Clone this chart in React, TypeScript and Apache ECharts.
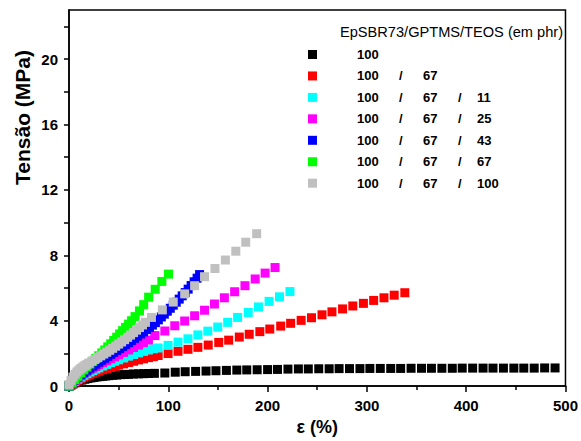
import React, { useEffect, useRef } from "react";
import * as echarts from "echarts";

const FONT = "'Liberation Sans', Arial, Helvetica, sans-serif";

const legendNames = ["100", "100/67", "100/67/11", "100/67/25", "100/67/43", "100/67/67", "100/67/100"];
const colors = ["#000000", "#ff0000", "#00ffff", "#ff00ff", "#0000ff", "#00ff00", "#c0c0c0"];
const legendTitle = "EpSBR73/GPTMS/TEOS (em phr)";
const xLabel = "ε (%)";
const yLabel = "Tensão (MPa)";
const xTicks = [0, 100, 200, 300, 400, 500];
const yTickLabels = [0, 4, 8, 12, 16, 20];
const yTickMarks = [0, 2, 4, 6, 8, 10, 12, 14, 16, 18, 20, 22];

const s100: [number, number][] = [
  [0, 0], [2, 0.06], [4, 0.13], [6, 0.2], [8, 0.26], [10, 0.31], [13, 0.37], [16, 0.42], [19, 0.46], [22, 0.5],
  [25, 0.53], [28, 0.56], [31, 0.58], [34, 0.6], [37, 0.62], [40, 0.64], [44, 0.66], [48, 0.68], [52, 0.7], [56, 0.71],
  [60, 0.72], [65, 0.74], [70, 0.75], [75, 0.76], [80, 0.77], [86, 0.78], [96.5, 0.8], [107, 0.85], [117, 0.88],
  [127.5, 0.9], [138, 0.92], [148, 0.94], [158.5, 0.96], [169, 0.98], [179, 0.99], [189.5, 1.0], [200, 1.01],
  [210, 1.02], [220.5, 1.04], [231, 1.05], [241, 1.05], [251.5, 1.06], [262, 1.06], [272, 1.07], [282.5, 1.07],
  [293, 1.07], [303, 1.08], [313.5, 1.08], [324, 1.08], [334, 1.08], [344.5, 1.09], [355, 1.09], [365, 1.09],
  [375.5, 1.09], [386, 1.09], [396, 1.1], [406.5, 1.1], [417, 1.1], [427, 1.1], [437.5, 1.1], [448, 1.1],
  [458, 1.1], [468.5, 1.1], [479, 1.11], [489.5, 1.11],
];
const s100_67: [number, number][] = [
  [0, 0], [3, 0.12], [6, 0.24], [9, 0.35], [12, 0.45], [15, 0.54], [18, 0.62], [21, 0.7], [24, 0.78], [27, 0.85],
  [30, 0.92], [34, 1.0], [38, 1.07], [42, 1.14], [46, 1.21], [50, 1.28], [55, 1.36], [60, 1.44], [65, 1.52],
  [70, 1.6], [75, 1.67], [80, 1.74], [85, 1.8], [89.8, 1.87], [99.8, 1.99], [109.8, 2.13], [119.8, 2.25],
  [129.8, 2.37], [140.2, 2.51], [150.8, 2.67], [160.8, 2.81], [171.5, 3.0], [181.5, 3.17], [192.2, 3.33],
  [202.2, 3.49], [213.2, 3.67], [223.2, 3.84], [233.8, 4.02], [244.2, 4.18], [254.8, 4.36], [264.8, 4.54],
  [275.5, 4.72], [285.8, 4.9], [296.5, 5.06], [306.8, 5.24], [317.2, 5.4], [327.5, 5.56], [338.2, 5.71],
];
const s100_67_11: [number, number][] = [
  [0, 0], [3, 0.15], [6, 0.3], [9, 0.43], [12, 0.55], [15, 0.66], [18, 0.76], [21, 0.86], [24, 0.95], [27, 1.04],
  [30, 1.12], [34, 1.23], [38, 1.33], [42, 1.43], [46, 1.52], [50, 1.61], [55, 1.72], [60, 1.83], [65, 1.93],
  [70, 2.03], [75, 2.12], [80, 2.21], [85, 2.28], [89.8, 2.33], [99.8, 2.49], [109.8, 2.69], [119.8, 2.89],
  [129.8, 3.13], [139.8, 3.36], [149.8, 3.61], [159.8, 3.9], [169.8, 4.2], [180.5, 4.5], [190.8, 4.84],
  [201.5, 5.18], [212, 5.46], [222.5, 5.78],
];
const s100_67_25: [number, number][] = [
  [0, 0], [3, 0.17], [6, 0.34], [9, 0.49], [12, 0.63], [15, 0.76], [18, 0.88], [21, 1.0], [24, 1.1], [27, 1.2],
  [30, 1.3], [34, 1.43], [38, 1.55], [42, 1.67], [46, 1.79], [50, 1.91], [55, 2.06], [60, 2.21], [65, 2.36],
  [70, 2.51], [75, 2.66], [80, 2.82], [86.5, 3.09], [96.5, 3.37], [106.5, 3.69], [116.5, 3.98], [126.5, 4.3],
  [136.5, 4.64], [146.5, 5.02], [156.5, 5.4], [166.8, 5.77], [177.2, 6.14], [187.5, 6.55], [197.5, 6.91],
  [207.5, 7.25],
];
const s100_67_43: [number, number][] = [
  [0, 0], [3, 0.2], [6, 0.38], [9, 0.55], [12, 0.7], [15, 0.84], [18, 0.97], [21, 1.1], [24, 1.22], [27, 1.34],
  [30, 1.46], [33, 1.58], [36, 1.7], [39, 1.82], [42, 1.94], [45, 2.06], [48, 2.18], [51, 2.3], [54, 2.42],
  [57, 2.54], [60, 2.66], [63, 2.79], [66, 2.92], [69, 3.05], [72, 3.18], [75, 3.31], [78, 3.45], [81, 3.59],
  [84, 3.73], [87, 3.88], [90, 4.05], [93, 4.23], [96, 4.4], [99, 4.58], [102, 4.76], [105, 4.95], [108, 5.13],
  [111, 5.32], [114, 5.52], [117, 5.72], [120, 5.93], [123, 6.15], [126, 6.38], [129, 6.6], [131.5, 6.82],
];
const s100_67_67: [number, number][] = [
  [0, 0], [3, 0.2], [6, 0.4], [9, 0.6], [12, 0.8], [15, 0.99], [18, 1.17], [21, 1.35], [24, 1.52], [27, 1.69],
  [30, 1.86], [33, 2.03], [36, 2.21], [39, 2.4], [42, 2.59], [45, 2.79], [48, 2.99], [51, 3.19], [54, 3.39],
  [57, 3.59], [60, 3.79], [63, 4.0], [66.5, 4.25], [71, 4.6], [75.2, 4.98], [80.2, 5.44], [86.8, 5.92],
  [93.5, 6.4], [100.2, 6.85],
];
const s100_67_100: [number, number][] = [
  [0, 0.1], [2, 0.35], [4, 0.55], [6, 0.72], [8, 0.86], [10, 0.98], [12, 1.08], [14, 1.17], [16, 1.25], [18, 1.33],
  [20, 1.41], [23, 1.52], [26, 1.63], [29, 1.74], [32, 1.85], [35, 1.96], [38, 2.07], [41, 2.19], [44, 2.31],
  [47, 2.44], [50, 2.57], [53, 2.7], [56, 2.84], [59, 2.98], [62, 3.12], [65, 3.27], [68, 3.42], [71, 3.58],
  [74, 3.74], [77, 3.9], [83, 4.2], [94, 4.66], [105, 5.14], [116.5, 5.64], [126.5, 6.14], [136.5, 6.69],
  [147, 7.19], [157.5, 7.71], [168, 8.25], [178, 8.8], [189, 9.32],
];

const seriesData = [s100, s100_67, s100_67_11, s100_67_25, s100_67_43, s100_67_67, s100_67_100];

export default function App() {
  const ref = useRef<HTMLDivElement>(null);
  useEffect(() => {
    if (!ref.current) return;
    const chart = echarts.init(ref.current, null, { renderer: "svg" });
    const tickLabelStyle = { fontFamily: FONT, fontWeight: "bold" as const, fontSize: 15, color: "#000" };
    const tok = (w: number) => ({ width: w, align: "left", fontWeight: "bold", fontSize: 13, lineHeight: 16, fontFamily: FONT, color: "#000" });
    const option: any = {
      animation: false,
      backgroundColor: "#ffffff",
      textStyle: { fontFamily: FONT },
      grid: {
        left: 69, right: 12.5, top: 10, bottom: 49,
        show: true, borderColor: "#000", borderWidth: 1.5, backgroundColor: "transparent",
      },
      title: {
        text: legendTitle,
        left: 340, top: 24, padding: 0,
        textStyle: { fontFamily: FONT, fontWeight: "normal", fontSize: 14.6, color: "#000" },
      },
      legend: {
        data: legendNames,
        orient: "vertical",
        left: 308, top: 46.5, padding: 0,
        itemWidth: 9, itemHeight: 9, itemGap: 5.45,
        icon: "rect",
        selectedMode: false,
        formatter: (name: string) => {
          const p = name.split("/");
          let s = `{p| }{a|${p[0]}}`;
          if (p[1]) s += `{s1|/}{b|${p[1]}}`;
          if (p[2]) s += `{s2|/}{c|${p[2]}}`;
          return s;
        },
        textStyle: {
          fontFamily: FONT, fontWeight: "bold", fontSize: 13, color: "#000", lineHeight: 16,
          rich: {
            p: tok(35),
            a: tok(42),
            s1: tok(24),
            b: tok(35),
            s2: tok(19),
            c: tok(30),
          },
        },
      },
      xAxis: {
        type: "value",
        min: 0, max: 500, interval: 100,
        name: xLabel, nameLocation: "middle", nameGap: 30.5,
        nameTextStyle: { fontFamily: FONT, fontWeight: "bold", fontSize: 18, color: "#000" },
        axisLine: { show: true, lineStyle: { color: "#000", width: 1.5 } },
        axisTick: { show: true, length: 6, lineStyle: { color: "#000", width: 1.5 } },
        minorTick: { show: true, splitNumber: 2, length: 4, lineStyle: { color: "#000", width: 1.5 } },
        axisLabel: { ...tickLabelStyle, margin: 12, customValues: xTicks },
        splitLine: { show: false },
      },
      yAxis: {
        type: "value",
        min: 0, max: 23,
        axisLine: { show: true, lineStyle: { color: "#000", width: 1.5 } },
        axisTick: { show: true, length: 5, customValues: yTickMarks, lineStyle: { color: "#000", width: 1.5 } },
        axisLabel: { ...tickLabelStyle, margin: 11, customValues: yTickLabels },
        splitLine: { show: false },
      },
      graphic: [
        {
          type: "text",
          x: 22, y: 117.5,
          rotation: Math.PI / 2,
          style: {
            text: yLabel,
            font: `bold 21px ${FONT}`,
            fill: "#000",
            textAlign: "center",
            textVerticalAlign: "middle",
          },
        },
      ],
      series: seriesData.map((d, i) => ({
        name: legendNames[i],
        type: "scatter",
        data: d,
        symbol: "rect",
        symbolSize: 9,
        itemStyle: { color: colors[i], opacity: 1 },
        z: 2 + i,
        emphasis: { disabled: true },
      })),
    };
    chart.setOption(option);
    return () => chart.dispose();
  }, []);
  return (
    <div
      ref={ref}
      style={{ position: "fixed", left: 0, top: 0, width: 581, height: 441, background: "#fff" }}
    />
  );
}
